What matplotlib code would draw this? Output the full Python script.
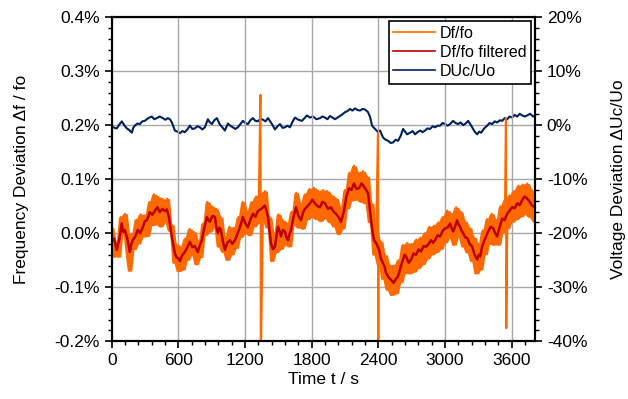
import numpy as np
import matplotlib
matplotlib.use('Agg')
import matplotlib.pyplot as plt
from matplotlib.ticker import AutoMinorLocator, FuncFormatter

plt.rcParams['font.family'] = ['Liberation Sans', 'DejaVu Sans']

# filtered frequency deviation: (time s, deviation %)
filt_pts = [
    (0, -0.016), (22, -0.010), (45, -0.031), (67, -0.012), (90, 0.018), (104, 0.002),
    (117, 0.006), (140, -0.010), (162, -0.035), (176, -0.020), (189, -0.013),
    (212, -0.006), (234, 0.006), (256, 0.000), (279, 0.011), (297, 0.022),
    (315, 0.024), (328, 0.030), (342, 0.039), (364, 0.034), (387, 0.041),
    (410, 0.048), (432, 0.039), (455, 0.045), (477, 0.041), (495, 0.044),
    (514, 0.030), (541, -0.007), (568, -0.037), (582, -0.045), (595, -0.046),
    (613, -0.052), (631, -0.042), (654, -0.036), (676, -0.028), (690, -0.022),
    (703, -0.016), (725, -0.026), (748, -0.024), (762, -0.030), (775, -0.035),
    (793, -0.022), (811, -0.013), (833, 0.010), (856, 0.030), (870, 0.024),
    (883, 0.021), (905, 0.032), (928, 0.030), (941, 0.012), (955, 0.000),
    (968, 0.010), (982, 0.006), (1000, -0.015), (1018, -0.031), (1040, -0.018),
    (1063, -0.013), (1085, -0.020), (1108, -0.013), (1130, -0.002), (1153, 0.011),
    (1167, 0.020), (1180, 0.030), (1202, 0.018), (1225, 0.011), (1248, 0.025),
    (1270, 0.036), (1292, 0.030), (1315, 0.041), (1346, 0.045), (1378, 0.051),
    (1392, 0.042), (1406, 0.030), (1420, 0.005), (1433, -0.019), (1451, -0.030),
    (1469, -0.025), (1482, -0.005), (1496, 0.012), (1510, 0.004), (1523, -0.006),
    (1541, 0.006), (1559, 0.003), (1572, -0.008), (1586, -0.013), (1600, -0.002),
    (1613, 0.006), (1636, 0.030), (1658, 0.048), (1680, 0.032), (1703, 0.024),
    (1721, 0.038), (1739, 0.045), (1762, 0.050), (1784, 0.055), (1806, 0.062),
    (1829, 0.055), (1851, 0.050), (1874, 0.048), (1896, 0.058), (1919, 0.055),
    (1946, 0.045), (1973, 0.048), (1995, 0.040), (2018, 0.036), (2040, 0.030),
    (2063, 0.021), (2076, 0.030), (2090, 0.041), (2112, 0.068), (2135, 0.083),
    (2158, 0.080), (2180, 0.092), (2202, 0.082), (2225, 0.083), (2248, 0.092),
    (2271, 0.086), (2289, 0.080), (2307, 0.074), (2320, 0.050), (2334, 0.024),
    (2348, 0.002), (2361, -0.013), (2384, -0.020), (2406, -0.031), (2424, -0.048),
    (2442, -0.056), (2456, -0.062), (2469, -0.074), (2492, -0.082), (2514, -0.087),
    (2537, -0.092), (2559, -0.084), (2572, -0.082), (2586, -0.074), (2604, -0.060),
    (2622, -0.049), (2636, -0.040), (2649, -0.043), (2672, -0.055), (2694, -0.049),
    (2716, -0.038), (2739, -0.040), (2762, -0.030), (2784, -0.034), (2806, -0.024),
    (2829, -0.025), (2852, -0.020), (2874, -0.013), (2892, -0.018), (2910, -0.013),
    (2932, -0.004), (2955, -0.006), (2978, 0.004), (3000, 0.009), (3022, 0.010),
    (3045, 0.018), (3058, 0.010), (3072, 0.003), (3090, 0.012), (3108, 0.024),
    (3122, 0.016), (3135, 0.012), (3149, 0.004), (3163, 0.000), (3181, -0.008),
    (3199, -0.009), (3222, -0.020), (3244, -0.025), (3266, -0.040), (3289, -0.049),
    (3302, -0.040), (3316, -0.043), (3330, -0.028), (3343, -0.019), (3366, -0.008),
    (3388, 0.003), (3410, 0.012), (3433, 0.009), (3451, 0.000), (3469, -0.006),
    (3492, 0.012), (3514, 0.027), (3536, 0.024), (3559, 0.036), (3582, 0.042),
    (3604, 0.048), (3626, 0.046), (3649, 0.055), (3672, 0.052), (3694, 0.061),
    (3716, 0.068), (3739, 0.064), (3762, 0.058), (3784, 0.051), (3810, 0.048),
]

# raw frequency deviation in %, sampled every 20 s from 0 s to 3800 s
raw_step = 20
raw_df = [0.010, -0.044, -0.018, -0.044, 0.030, 0.000, 0.036, -0.037, -0.070, -0.001,
          -0.030, 0.025, -0.020, 0.035, -0.007, 0.033, -0.006, 0.058, 0.014, 0.072,
          0.016, 0.067, 0.012, 0.063, 0.020, 0.064, 0.004, 0.016, -0.055, -0.020,
          -0.071, -0.025, -0.068, -0.010, -0.050, 0.008, -0.040, 0.002, -0.058, -0.015,
          -0.045, 0.018, -0.004, 0.058, 0.002, 0.050, 0.010, 0.045, -0.025, 0.030,
          -0.035, -0.008, -0.050, 0.012, -0.040, 0.010, -0.028, 0.030, -0.008, 0.058,
          0.000, 0.040, -0.004, 0.058, 0.012, 0.068, 0.018, 0.075, 0.022, 0.078,
          0.010, 0.030, -0.052, 0.000, -0.036, 0.035, -0.030, 0.024, -0.022, 0.018,
          -0.025, 0.040, 0.015, 0.075, 0.010, 0.055, 0.008, 0.072, 0.025, 0.082,
          0.030, 0.084, 0.026, 0.078, 0.022, 0.080, 0.028, 0.078, 0.020, 0.070,
          0.012, 0.064, -0.002, 0.048, 0.008, 0.080, 0.045, 0.112, 0.060, 0.125,
          0.062, 0.112, 0.058, 0.115, 0.055, 0.105, 0.020, 0.055, -0.040, 0.002,
          -0.058, -0.015, -0.085, -0.040, -0.105, -0.058, -0.115, -0.060, -0.112, -0.050,
          -0.092, -0.022, -0.075, -0.018, -0.075, -0.020, -0.072, -0.012, -0.065, -0.008,
          -0.058, 0.000, -0.048, 0.012, -0.040, 0.014, -0.036, 0.020, -0.030, 0.030,
          -0.018, 0.042, -0.008, 0.036, -0.022, 0.048, -0.006, 0.040, -0.025, 0.022,
          -0.036, 0.010, -0.052, -0.008, -0.075, -0.020, -0.068, 0.005, -0.040, 0.026,
          -0.020, 0.036, -0.022, 0.024, -0.022, 0.050, 0.000, 0.062, 0.008, 0.070,
          0.020, 0.078, 0.025, 0.088, 0.030, 0.090, 0.035, 0.092, 0.030, 0.080,
          0.022]

# single-sample spikes in the raw signal
spike_t = [1338, 1341, 2396, 2399, 3548, 3551]
spike_df = [0.256, -0.25, 0.185, -0.25, 0.213, -0.176]

# capacitor voltage deviation: (time s, deviation %)
volt_pts = [
    (0, -0.1), (22, -0.5), (45, -0.6), (67, 0.1), (90, 0.7), (112, 0.0), (135, -0.6),
    (157, -0.9), (180, -1.4), (193, -0.5), (207, -0.1), (230, 0.3), (252, 0.2),
    (275, 0.7), (297, 0.8), (328, 1.3), (360, 1.6), (382, 1.1), (405, 1.3),
    (432, 1.6), (460, 1.3), (482, 1.0), (505, 1.3), (523, 1.1), (541, 0.5),
    (568, -1.0), (590, -1.2), (613, -1.5), (635, -1.1), (658, -1.3), (680, -0.8),
    (703, -0.1), (725, -0.7), (748, -0.6), (770, -0.2), (793, -0.4), (815, -0.8),
    (838, -0.4), (865, 1.1), (883, 0.5), (901, 0.2), (923, 0.9), (946, 1.3),
    (973, 0.1), (995, -0.4), (1018, -1.0), (1045, 0.3), (1067, -0.1), (1090, -0.4),
    (1112, -0.7), (1135, -0.4), (1157, 0.2), (1180, 0.8), (1202, 0.4), (1225, 0.2),
    (1247, 0.9), (1270, 1.3), (1292, 0.8), (1315, 0.7), (1338, 1.2), (1361, 1.0),
    (1383, 0.7), (1406, 1.3), (1442, 0.2), (1469, -0.8), (1492, -0.2), (1514, 0.2),
    (1537, -0.5), (1559, -0.4), (1581, -0.1), (1604, -0.4), (1626, 0.6), (1649, 1.4),
    (1680, 1.0), (1712, 0.8), (1735, 1.3), (1757, 1.8), (1784, 1.4), (1811, 1.6),
    (1842, 1.1), (1874, 1.3), (1896, 1.6), (1919, 1.4), (1941, 1.1), (1964, 1.7),
    (1986, 1.4), (2009, 1.1), (2031, 1.4), (2054, 1.7), (2076, 2.0), (2099, 2.4),
    (2121, 2.6), (2144, 3.0), (2166, 2.7), (2189, 3.1), (2212, 2.8), (2235, 2.7),
    (2257, 3.0), (2280, 2.9), (2307, 2.4), (2325, 1.5), (2343, -0.1), (2370, -0.7),
    (2392, -1.2), (2415, -1.0), (2442, -2.3), (2465, -2.7), (2487, -2.9),
    (2510, -3.3), (2532, -3.2), (2555, -2.7), (2577, -2.9), (2600, -2.0),
    (2622, -0.7), (2658, -1.7), (2685, -1.4), (2708, -1.1), (2730, -1.7),
    (2752, -1.3), (2775, -1.0), (2798, -1.3), (2820, -1.0), (2842, -0.6),
    (2865, -0.7), (2888, -0.2), (2910, -0.4), (2932, -0.1), (2955, -0.1), (2978, 0.4),
    (3000, 0.2), (3022, -0.1), (3045, 0.2), (3072, 0.8), (3095, 0.4), (3117, 0.2),
    (3140, 0.5), (3163, 0.0), (3185, 0.3), (3208, 0.8), (3244, -0.4), (3266, -1.2),
    (3289, -1.7), (3307, -1.2), (3325, -1.4), (3352, -0.6), (3379, -0.1), (3401, 0.4),
    (3424, 0.2), (3446, 0.7), (3469, 0.5), (3492, 0.9), (3514, 0.8), (3537, 1.3),
    (3559, 1.1), (3581, 1.6), (3604, 1.4), (3626, 1.9), (3649, 1.6), (3672, 2.1),
    (3694, 1.8), (3717, 1.6), (3739, 1.8), (3766, 2.1), (3793, 1.6), (3810, 1.7),
]

filt_t, filt_df = zip(*filt_pts)
volt_t, volt_du = zip(*volt_pts)

raw_t = list(range(0, raw_step * len(raw_df), raw_step))
all_t = np.array(raw_t + spike_t)
all_df = np.array(raw_df + spike_df)
order = np.argsort(all_t, kind='stable')
all_t = all_t[order]
all_df = all_df[order]

# noise band spanned by neighbouring raw samples
raw_arr = np.array(raw_df)
padded = np.concatenate([raw_arr[:1], raw_arr, raw_arr[-1:]])
band_hi = np.maximum.reduce([padded[:-2], padded[1:-1], padded[2:]])
band_lo = np.minimum.reduce([padded[:-2], padded[1:-1], padded[2:]])

c_raw = '#ff6a00'
c_filt = '#c00000'
c_volt = '#002060'
tick_size = 12.5

fig, ax = plt.subplots(figsize=(6.28, 3.99), dpi=100)
fig.subplots_adjust(left=0.178, right=0.852, top=0.957, bottom=0.145)
ax2 = ax.twinx()
ax.set_zorder(ax2.get_zorder() + 1)
ax.patch.set_visible(False)

l_volt, = ax2.plot(volt_t, volt_du, color=c_volt, linewidth=1.5, label='DUc/Uo')
ax.fill_between(raw_t, band_lo, band_hi, color=c_raw, linewidth=0)
l_raw, = ax.plot(all_t, all_df, color=c_raw, linewidth=1.5, label='Df/fo')
l_filt, = ax.plot(filt_t, filt_df, color=c_filt, linewidth=1.8, label='Df/fo filtered')

ax.set_xlim(0, 3810)
ax.set_ylim(-0.2, 0.4)
ax2.set_ylim(-40, 20)
ax.set_xticks(range(0, 3601, 600))
ax.set_yticks(np.arange(-0.2, 0.41, 0.1))
ax2.set_yticks(range(-40, 21, 10))
ax.xaxis.set_minor_locator(AutoMinorLocator(5))
ax.yaxis.set_minor_locator(AutoMinorLocator(5))
ax2.yaxis.set_minor_locator(AutoMinorLocator(5))
ax.yaxis.set_major_formatter(FuncFormatter(lambda v, p: '%.1f%%' % v))
ax2.yaxis.set_major_formatter(FuncFormatter(lambda v, p: '%d%%' % round(v)))

grid_color = '#a8a8a8'
ax2.grid(True, which='major', axis='y', color=grid_color, linewidth=1.0)
ax.set_axisbelow(True)
ax.grid(True, which='major', axis='x', color=grid_color, linewidth=1.0)
for a in (ax, ax2):
    a.tick_params(which='major', direction='out', length=5, width=1.2,
                  labelsize=tick_size)
    a.tick_params(which='minor', direction='out', length=3, width=1.0)
    for s in a.spines.values():
        s.set_linewidth(1.5)

ax.set_xlabel('Time t / s', fontsize=tick_size, labelpad=3)
ax.set_ylabel('Frequency Deviation \u0394f / fo', fontsize=tick_size)
ax2.set_ylabel('Voltage Deviation \u0394Uc/Uo', fontsize=tick_size)
ax.yaxis.set_label_coords(-0.195, 0.5)
ax2.yaxis.set_label_coords(1.18, 0.5)

leg = ax.legend(handles=[l_raw, l_filt, l_volt], loc='upper right', fontsize=11.5,
                fancybox=False, framealpha=1, edgecolor='black',
                borderaxespad=0.25, handlelength=2.6, handletextpad=0.3,
                labelspacing=0.25, borderpad=0.3)
leg.get_frame().set_linewidth(1.2)
for h in leg.get_lines():
    h.set_linewidth(1.2)

fig.savefig('out.png', dpi=100)
